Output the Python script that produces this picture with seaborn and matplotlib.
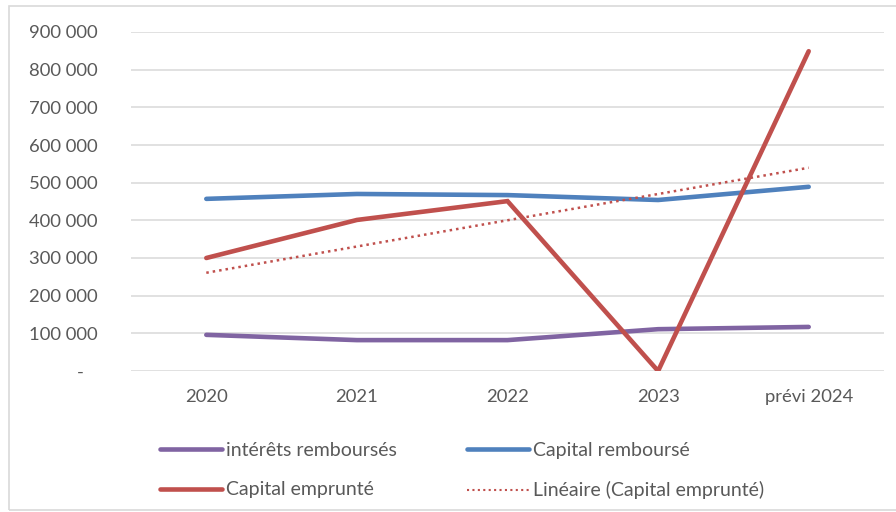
import numpy as np
import pandas as pd
import matplotlib.pyplot as plt
import seaborn as sns
from matplotlib.ticker import FuncFormatter
from matplotlib.lines import Line2D
from matplotlib.patches import Rectangle

# --- data ---
years = ["2020", "2021", "2022", "2023", "prévi 2024"]
interets_rembourses = [96000, 82000, 82000, 111000, 117000]
capital_rembourse = [457000, 470000, 467000, 454000, 489000]
capital_emprunte = [300000, 401000, 451000, 0, 849000]

PURPLE = "#8064A2"
BLUE = "#4F81BD"
RED = "#C0504D"
GREY_TXT = "#595959"
GRID = "#D9D9D9"

sns.set_theme(style="white")
plt.rcParams['font.family'] = ['Lato', 'DejaVu Sans']

pos = np.arange(len(years))
df = pd.DataFrame({
    "pos": pos,
    "interets": interets_rembourses,
    "remb": capital_rembourse,
    "emp": capital_emprunte,
})

fig = plt.figure(figsize=(8.96, 5.12), dpi=100)
ax = fig.add_axes([131 / 896, 1 - 371 / 512, (884 - 131) / 896, (371 - 32) / 512])

lw = 3.3
sns.lineplot(data=df, x="pos", y="interets", color=PURPLE, lw=lw, ax=ax,
             solid_capstyle="round", solid_joinstyle="round")
sns.lineplot(data=df, x="pos", y="remb", color=BLUE, lw=lw, ax=ax,
             solid_capstyle="round", solid_joinstyle="round")
sns.lineplot(data=df, x="pos", y="emp", color=RED, lw=lw, ax=ax,
             solid_capstyle="round", solid_joinstyle="miter")
# Excel-style linear trendline
sns.regplot(data=df, x="pos", y="emp", scatter=False, ci=None, ax=ax,
            line_kws=dict(color=RED, lw=1.8, linestyle=(0, (1, 1.6))))

ax.set_xlim(-0.5, len(years) - 0.5)
ax.set_ylim(0, 900000)
ax.set_yticks(np.arange(0, 900001, 100000))
ax.yaxis.set_major_formatter(FuncFormatter(
    lambda v, p: "-   " if v == 0 else f"{int(v):,}".replace(",", " ")))
ax.set_xticks(pos)
ax.set_xticklabels(years)
ax.set_xlabel("")
ax.set_ylabel("")
ax.tick_params(axis="y", length=0, pad=24, labelsize=13.3, labelcolor=GREY_TXT)
ax.tick_params(axis="x", length=0, pad=13, labelsize=13.3, labelcolor=GREY_TXT)
ax.grid(axis="y", color=GRID, lw=1.1)
ax.grid(axis="x", visible=False)
ax.set_axisbelow(True)
for s in ax.spines.values():
    s.set_visible(False)

handles = [
    Line2D([], [], color=PURPLE, lw=lw, solid_capstyle="round"),
    Line2D([], [], color=RED, lw=lw, solid_capstyle="round"),
    Line2D([], [], color=BLUE, lw=lw, solid_capstyle="round"),
    Line2D([], [], color=RED, lw=1.5, linestyle=(0, (1, 1.6))),
]
labels = ["intérêts remboursés", "Capital emprunté",
          "Capital remboursé", "Linéaire (Capital emprunté)"]
fig.legend(handles, labels, ncol=2, loc="upper left",
           bbox_to_anchor=(160 / 896, 1 - 442 / 512), frameon=False,
           borderpad=0, borderaxespad=0,
           fontsize=14, labelcolor=GREY_TXT, handlelength=3.2,
           handletextpad=0.2, columnspacing=3.6, labelspacing=1.15)

# light chart-area frame
fig.patches.append(Rectangle((9 / 896, 2 / 512), 1, 1 - 8 / 512,
                             transform=fig.transFigure, fill=False,
                             edgecolor="#D9D9D9", lw=1.2))

fig.savefig("out.png", dpi=100)
